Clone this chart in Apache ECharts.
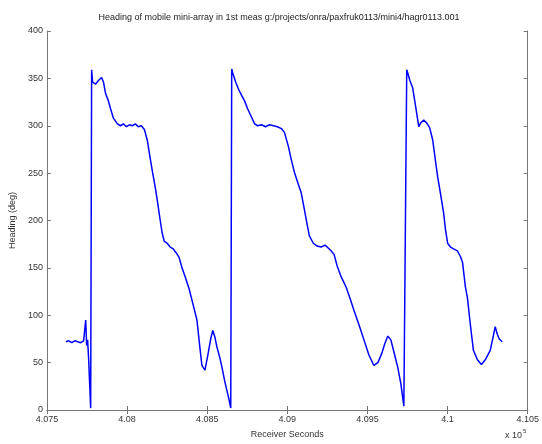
<!DOCTYPE html>
<html><head><meta charset="utf-8">
<script src="https://cdn.jsdelivr.net/npm/echarts@6/dist/echarts.min.js"></script>
<style>html,body{margin:0;padding:0;background:#fff}#c{width:542px;height:444px}</style>
</head><body><div id="c"></div>
<script>
// Receiver seconds (x 10^5)
const time = [
4.07618,4.07636,4.07655,4.07674,4.07692,4.07711,4.07729,4.07742,4.07748,4.07754,4.07760,4.07773,4.07779,
4.07785,4.07804,4.07823,4.07841,4.07853,4.07866,4.07884,4.07897,4.07915,4.07940,4.07959,4.07977,4.07996,4.08015,4.08033,4.08052,4.08070,4.08089,4.08108,4.08126,4.08145,4.08157,4.08176,4.08188,4.08207,4.08219,4.08232,4.08250,4.08269,4.08288,4.08306,4.08325,4.08343,4.08362,4.08387,4.08405,4.08436,4.08455,4.08467,4.08486,4.08504,4.08523,4.08535,4.08548,4.08560,4.08579,4.08591,4.08610,4.08635,4.08647,4.08653,
4.08659,4.08678,4.08697,4.08715,4.08734,4.08752,4.08777,4.08796,4.08815,4.08839,4.08864,4.08889,4.08914,4.08938,4.08963,4.08982,4.09007,4.09025,4.09044,4.09069,4.09087,4.09106,4.09118,4.09137,4.09162,4.09186,4.09211,4.09236,4.09255,4.09273,4.09292,4.09311,4.09335,4.09366,4.09391,4.09416,4.09447,4.09478,4.09509,4.09540,4.09565,4.09590,4.09608,4.09627,4.09646,4.09664,4.09689,4.09708,4.09727,4.09745,
4.09751,4.09764,4.09782,4.09801,4.09820,4.09832,4.09851,4.09869,4.09888,4.09907,4.09925,4.09938,4.09956,4.09975,4.09987,4.10000,4.10018,4.10037,4.10061,4.10080,4.10093,4.10111,4.10124,4.10142,4.10161,4.10186,4.10211,4.10235,4.10266,4.10285,4.10297,4.10310,4.10322,4.10341
];
// Heading (deg)
const heading = [
72,73,71,73,72,71,73,95,68,74,55,2,359,
346,344,348,351,346,334,326,318,308,302,300,302,299,301,300,302,299,300,296,285,265,253,235,222,200,187,178,176,172,170,166,161,150,141,128,116,95,65,47,42,58,76,84,77,67,55,46,30,12,2,360,
356,346,338,332,326,318,309,302,300,301,299,301,300,299,297,293,278,264,251,238,229,212,201,184,176,173,172,174,171,168,164,152,141,130,118,105,90,74,58,47,50,60,70,78,74,62,45,28,4,359,
356,348,340,320,299,303,306,303,298,285,262,246,228,208,190,176,172,170,168,162,156,130,118,90,63,53,48,53,63,78,88,80,75,72
];
const xTicks = [4.075,4.08,4.085,4.09,4.095,4.1,4.105];
const yTicks = [0,50,100,150,200,250,300,350,400];

const chart = echarts.init(document.getElementById('c'), null, {renderer:'canvas'});
const font = 'Liberation Sans';
const axisColor = '#777';
const pts = time.map((t,i)=>[t, heading[i]]);
chart.setOption({
  animation:false,
  backgroundColor:'#fff',
  title:{text:'Heading of mobile mini-array in 1st meas g:/projects/onra/paxfruk0113/mini4/hagr0113.001',
    left:274, top:8, textAlign:'center',
    textStyle:{fontFamily:font,fontSize:9,fontWeight:'normal',color:'#222'}},
  grid:{left:44,right:13,top:31,bottom:34},
  xAxis:[{type:'value',min:4.075,max:4.105,interval:0.005,
    axisLine:{lineStyle:{color:axisColor}},
    axisTick:{inside:true,length:4,lineStyle:{color:axisColor}},
    splitLine:{show:false},
    axisLabel:{fontFamily:font,fontSize:9,color:'#333',margin:5,
      formatter:v=>{const s=xTicks.find(t=>Math.abs(t-v)<1e-6);return s===undefined?'':String(s);}},
    name:'Receiver Seconds',nameLocation:'middle',nameGap:20,
    nameTextStyle:{fontFamily:font,fontSize:9,color:'#333'}},
   {type:'value',position:'top',min:4.075,max:4.105,interval:0.005,
    axisLine:{lineStyle:{color:axisColor}},
    axisTick:{inside:true,length:4,lineStyle:{color:axisColor}},
    axisLabel:{show:false},splitLine:{show:false}}],
  yAxis:[{type:'value',min:0,max:400,interval:50,
    axisLine:{show:true,lineStyle:{color:axisColor}},
    axisTick:{show:true,inside:true,length:4,lineStyle:{color:axisColor}},
    splitLine:{show:false},
    axisLabel:{fontFamily:font,fontSize:9,color:'#333',margin:4},
    name:'Heading (deg)',nameLocation:'middle',nameGap:26,
    nameTextStyle:{fontFamily:font,fontSize:9,color:'#333'}},
   {type:'value',position:'right',min:0,max:400,interval:50,
    axisLine:{show:true,lineStyle:{color:axisColor}},
    axisTick:{show:true,inside:true,length:4,lineStyle:{color:axisColor}},
    axisLabel:{show:false},splitLine:{show:false}}],
  graphic:[{type:'text',left:505,top:431,
    style:{text:'x 10',fontFamily:font,fontSize:9,fill:'#333'}},
   {type:'text',left:523,top:428,
    style:{text:'5',fontFamily:font,fontSize:6,fill:'#333'}}],
  series:[{type:'line',data:pts,showSymbol:false,
    lineStyle:{color:'#0000ff',width:1.5},itemStyle:{color:'#0000ff'}}]
});
</script></body></html>
